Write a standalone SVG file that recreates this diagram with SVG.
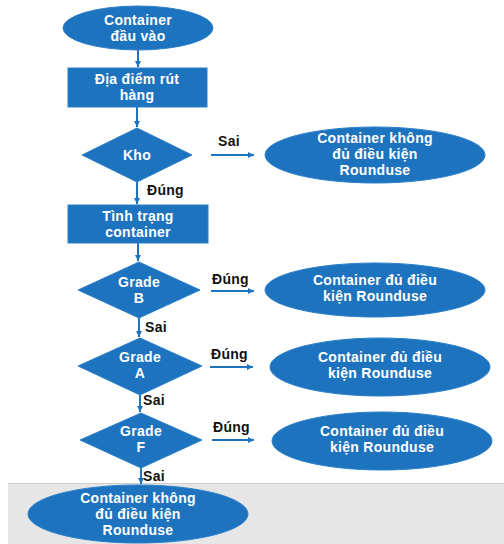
<svg xmlns="http://www.w3.org/2000/svg" width="504" height="544" viewBox="0 0 504 544">
<defs>
<marker id="ah" markerWidth="8" markerHeight="8" refX="6" refY="3" orient="auto" markerUnits="userSpaceOnUse">
<path d="M0,0 L6,3 L0,6 z" fill="#1e73be"/>
</marker>
<style>
.n{fill:#1e73be;stroke:#2a7fca;stroke-width:1}
.t{font-family:"Liberation Sans",Arial,sans-serif;font-weight:bold;font-size:14px;letter-spacing:0.3px;fill:#ffffff;text-anchor:middle}
.l{font-family:"Liberation Sans",Arial,sans-serif;font-weight:bold;font-size:14px;letter-spacing:0.3px;fill:#111111}
.c{stroke:#1e73be;stroke-width:2;fill:none;marker-end:url(#ah)}
</style>
</defs>
<rect x="0" y="0" width="504" height="544" fill="#ffffff"/>
<rect x="8" y="483" width="496" height="61" fill="#e6e6e6"/>
<line x1="8" y1="483.5" x2="504" y2="483.5" stroke="#cfcfcf" stroke-width="1"/>

<g id="connectors">
<line class="c" x1="138" y1="50" x2="138" y2="67"/>
<line class="c" x1="137" y1="107" x2="137" y2="127"/>
<line class="c" x1="211" y1="155" x2="254" y2="155"/>
<line class="c" x1="137" y1="182" x2="137" y2="204"/>
<line class="c" x1="138" y1="243" x2="138" y2="261"/>
<line class="c" x1="211" y1="291" x2="254" y2="291"/>
<line class="c" x1="139" y1="318" x2="139" y2="337"/>
<line class="c" x1="210" y1="367" x2="253" y2="367"/>
<line class="c" x1="140" y1="395" x2="140" y2="412"/>
<line class="c" x1="212" y1="440" x2="254" y2="440"/>
<line class="c" x1="141" y1="468" x2="141" y2="484"/>
<text class="l" x="218" y="146">Sai</text>
<text class="l" x="147" y="195">Đúng</text>
<text class="l" x="212" y="284">Đúng</text>
<text class="l" x="145" y="332">Sai</text>
<text class="l" x="211" y="359">Đúng</text>
<text class="l" x="143" y="405">Sai</text>
<text class="l" x="213" y="432">Đúng</text>
<text class="l" x="143" y="481">Sai</text>
</g>

<g id="start">
<ellipse class="n" cx="138" cy="28" rx="75" ry="22"/>
<text class="t" x="138" y="25">Container</text>
<text class="t" x="138" y="41">đầu vào</text>
</g>

<g id="dia-diem">
<rect class="n" x="68" y="68" width="139" height="39"/>
<text class="t" x="137" y="84">Địa điểm rút</text>
<text class="t" x="137" y="100">hàng</text>
</g>

<g id="kho">
<polygon class="n" points="137,128 192,155 137,182 82,155"/>
<text class="t" x="137" y="160">Kho</text>
</g>

<g id="khong-du-1">
<ellipse class="n" cx="375" cy="155" rx="110" ry="28"/>
<text class="t" x="375" y="143">Container không</text>
<text class="t" x="375" y="159">đủ điều kiện</text>
<text class="t" x="375" y="175">Rounduse</text>
</g>

<g id="tinh-trang">
<rect class="n" x="68" y="205" width="140" height="38"/>
<text class="t" x="138" y="221">Tình trạng</text>
<text class="t" x="138" y="237">container</text>
</g>

<g id="grade-b">
<polygon class="n" points="139,262 200,290 139,318 78,290"/>
<text class="t" x="139" y="287">Grade</text>
<text class="t" x="139" y="303">B</text>
</g>

<g id="du-b">
<ellipse class="n" cx="375" cy="290" rx="110" ry="27"/>
<text class="t" x="375" y="285">Container đủ điều</text>
<text class="t" x="375" y="301">kiện Rounduse</text>
</g>

<g id="grade-a">
<polygon class="n" points="140,338 202,366 140,395 78,366"/>
<text class="t" x="140" y="362">Grade</text>
<text class="t" x="140" y="378">A</text>
</g>

<g id="du-a">
<ellipse class="n" cx="380" cy="367" rx="110" ry="29"/>
<text class="t" x="380" y="362">Container đủ điều</text>
<text class="t" x="380" y="378">kiện Rounduse</text>
</g>

<g id="grade-f">
<polygon class="n" points="141,413 202,440 141,468 80,440"/>
<text class="t" x="141" y="436">Grade</text>
<text class="t" x="141" y="452">F</text>
</g>

<g id="du-f">
<ellipse class="n" cx="382" cy="441" rx="110" ry="29"/>
<text class="t" x="382" y="436">Container đủ điều</text>
<text class="t" x="382" y="452">kiện Rounduse</text>
</g>

<g id="khong-du-2">
<ellipse class="n" cx="138" cy="514" rx="110" ry="29"/>
<text class="t" x="138" y="503">Container không</text>
<text class="t" x="138" y="519">đủ điều kiện</text>
<text class="t" x="138" y="535">Rounduse</text>
</g>
</svg>
